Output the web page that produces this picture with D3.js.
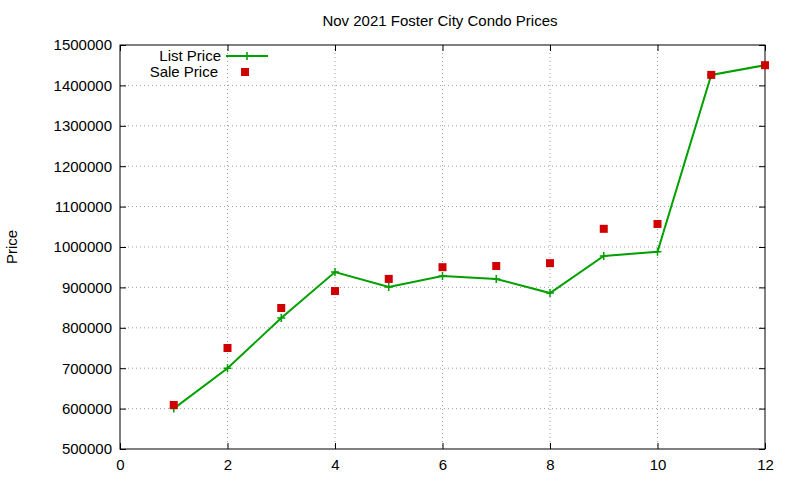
<!DOCTYPE html>
<html><head><meta charset="utf-8">
<script src="https://cdn.jsdelivr.net/npm/d3@7"></script>
<style>body{margin:0;background:#fff}text{font-family:"Liberation Sans",Arial,sans-serif;font-size:15px}</style>
</head><body><svg id="c" width="800" height="480"></svg>
<script>
const months=[1,2,3,4,5,6,7,8,9,10,11,12];
const listPrice=[600000,700000,824000,938000,901000,928000,921000,886000,978000,988000,1426000,1450000];
const salePrice=[609000,750000,849000,891000,921000,950000,953000,960000,1045000,1057000,1426000,1450000];
const xTicks=[0,2,4,6,8,10,12];
const yTicks=[500000,600000,700000,800000,900000,1000000,1100000,1200000,1300000,1400000,1500000];
const svg=d3.select("#c");
const L=120,R=765,T=45,B=449;
const x=d3.scaleLinear().domain([0,12]).range([L,R]);
const y=d3.scaleLinear().domain([500000,1500000]).range([B,T]);
svg.append("g").selectAll("line").data(xTicks.slice(1,-1)).join("line")
 .attr("x1",d=>x(d)).attr("x2",d=>x(d)).attr("y1",T).attr("y2",B)
 .attr("stroke","#a0a0a0").attr("stroke-dasharray","1,3");
svg.append("g").selectAll("line").data(yTicks.slice(1,-1)).join("line")
 .attr("y1",d=>y(d)).attr("y2",d=>y(d)).attr("x1",L).attr("x2",R)
 .attr("stroke","#a0a0a0").attr("stroke-dasharray","1,3");
svg.append("g").attr("transform",`translate(0,${B})`).call(d3.axisBottom(x).tickValues(xTicks).tickSize(-6).tickPadding(10));
svg.append("g").attr("transform",`translate(${L},0)`).call(d3.axisLeft(y).tickValues(yTicks).tickSize(-6).tickPadding(8).tickFormat(d3.format("d")));
svg.append("g").attr("transform",`translate(0,${T})`).call(d3.axisTop(x).tickValues(xTicks).tickSize(-6).tickFormat(""));
svg.append("g").attr("transform",`translate(${R},0)`).call(d3.axisRight(y).tickValues(yTicks).tickSize(-6).tickFormat(""));
svg.selectAll(".domain").remove();
svg.selectAll(".tick text").style("font-size","15px").style("font-family","'Liberation Sans',Arial,sans-serif").attr("fill","#000");
svg.append("rect").attr("x",L).attr("y",T).attr("width",R-L).attr("height",B-T).attr("fill","none").attr("stroke","#000");
const g="#00a000";
svg.append("path").datum(months.map((m,i)=>[m,listPrice[i]]))
 .attr("d",d3.line().x(d=>x(d[0])).y(d=>y(d[1]))).attr("fill","none").attr("stroke",g).attr("stroke-width",2);
const plus=(sel,px,py)=>{sel.append("path").attr("d",`M${px-4},${py}H${px+4}M${px},${py-4}V${py+4}`).attr("stroke",g).attr("stroke-width",1.5);};
months.forEach((m,i)=>plus(svg,x(m),y(listPrice[i])));
svg.append("g").selectAll("rect").data(months).join("rect")
 .attr("x",(d,i)=>x(d)-4).attr("y",(d,i)=>y(salePrice[i])-4).attr("width",8).attr("height",8).attr("fill","#d00000");
svg.append("text").attr("x",221).attr("y",61).attr("text-anchor","end").text("List Price");
svg.append("line").attr("x1",226).attr("x2",268).attr("y1",56).attr("y2",56).attr("stroke",g).attr("stroke-width",2);
plus(svg,247,56);
svg.append("text").attr("x",218).attr("y",77).attr("text-anchor","end").text("Sale Price");
svg.append("rect").attr("x",241).attr("y",68).attr("width",8).attr("height",8).attr("fill","#d00000");
svg.append("text").attr("x",440).attr("y",26).attr("text-anchor","middle").text("Nov 2021 Foster City Condo Prices");
svg.append("text").attr("transform","translate(17,247) rotate(-90)").attr("text-anchor","middle").text("Price");
</script></body></html>
